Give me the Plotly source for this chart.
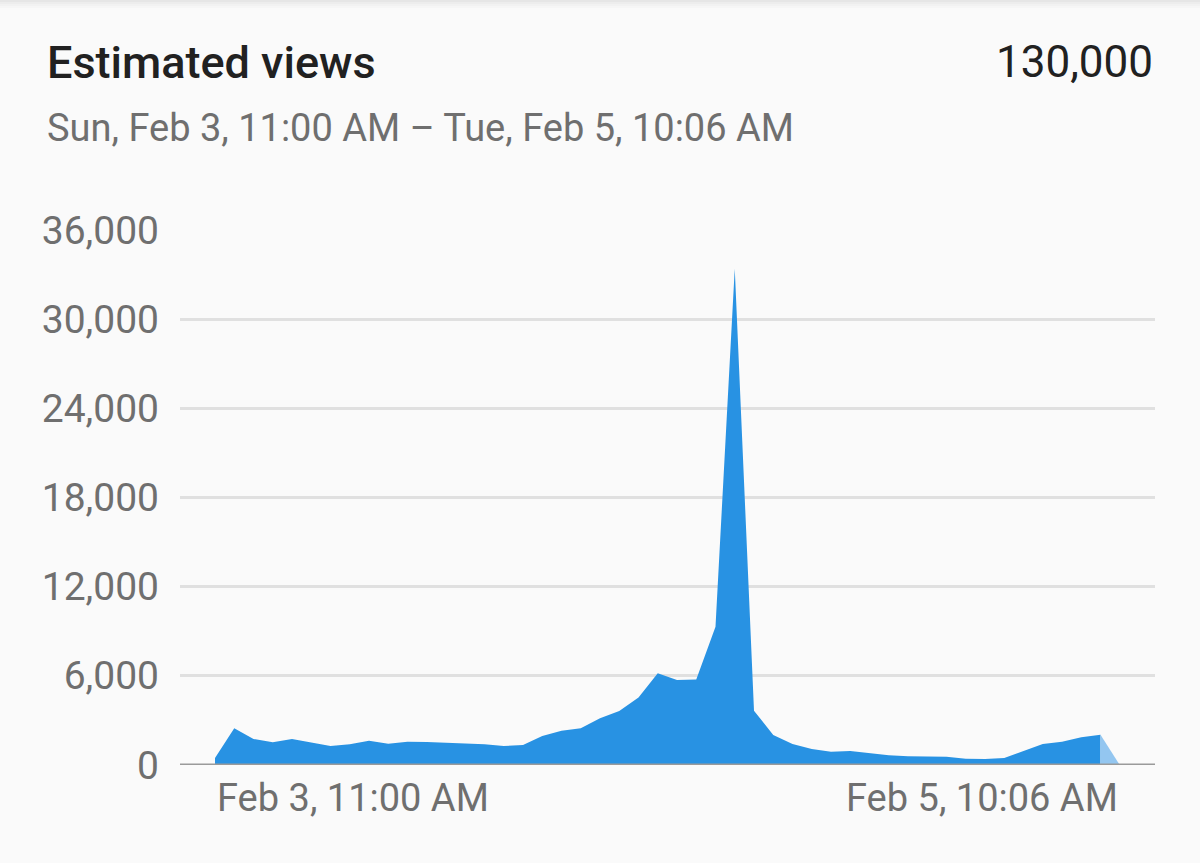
import plotly.graph_objects as go
import pandas as pd

# ---- data ----
start_time = "2019-02-03 11:00"
hourly_views = [470, 2470, 1750, 1530, 1750, 1500, 1280, 1390, 1640, 1430,
                1570, 1550, 1500, 1460, 1390, 1280, 1345, 1950, 2310, 2470,
                3140, 3630, 4550, 6170, 5720, 5760, 9310, 33400, 3650, 2020,
                1410, 1080, 900, 940, 790, 650, 585, 560, 560, 425,
                400, 470, 960, 1410, 1570, 1860, 2040]
partial_views = [2040, 0]          # last (incomplete) hour, drawn lighter
y_ticks = [0, 6000, 12000, 18000, 24000, 30000, 36000]
x_tick_labels = ["Feb 3, 11:00 AM", "Feb 5, 10:06 AM"]
title_text = "Estimated views"
total_text = "130,000"
subtitle_text = "Sun, Feb 3, 11:00 AM \u2013 Tue, Feb 5, 10:06 AM"

times = pd.date_range(start_time, periods=len(hourly_views), freq="h")
partial_times = pd.date_range(times[-1], periods=2, freq="h")

W, H = 1200, 863
L, R, T, B = 180, 45, 230, 98
PW, PH = W - L - R, H - T - B

def px(x):
    return (x - L) / PW

def py(y):
    return 1 - (y - T) / PH

BLUE = "#2892e3"
LIGHT = "#93c6f0"
FONT = "Roboto"

fig = go.Figure()
fig.add_trace(go.Scatter(x=times, y=hourly_views, mode="lines", fill="tozeroy",
                         line=dict(width=0, color=BLUE), fillcolor=BLUE,
                         hoverinfo="skip", showlegend=False))
fig.add_trace(go.Scatter(x=partial_times, y=partial_views, mode="lines", fill="tozeroy",
                         line=dict(width=0, color=LIGHT), fillcolor=LIGHT,
                         hoverinfo="skip", showlegend=False))

step = pd.Timedelta(hours=1)
x_lo = times[0] - step * (35 / 19.25)
x_hi = times[0] + step * ((1155 - 215) / 19.25)

fig.update_xaxes(range=[x_lo, x_hi], showgrid=False, zeroline=False,
                 showticklabels=False, showline=False, fixedrange=True)
fig.update_yaxes(range=[0, 36000], tickvals=y_ticks,
                 ticktext=[f"{v:,}" for v in y_ticks],
                 showgrid=True, gridcolor="#e0e0e0", gridwidth=2.5,
                 zeroline=False, showline=False,
                 tickfont=dict(family=FONT, size=39, color="#6f6f6f"),
                 ticklabelstandoff=20, fixedrange=True)

# baseline axis line
fig.add_shape(type="line", xref="paper", yref="y", x0=0, x1=1, y0=0, y1=0,
              line=dict(color="#9a9a9a", width=3), layer="above")

# top shadow
for i, c in enumerate(["#e6e6e6", "#ededed", "#f2f2f2", "#f6f6f6"]):
    fig.add_shape(type="rect", xref="paper", yref="paper",
                  x0=px(0), x1=px(W), y0=py(i * 2), y1=py(i * 2 + 2),
                  line=dict(width=0), fillcolor=c, layer="below")

ann = [
    dict(text=title_text, x=px(45), y=py(62), xanchor="left", yanchor="middle",
         font=dict(family=FONT, size=45, color="#212121", weight=500)),
    dict(text=total_text, x=px(1155), y=py(62), xanchor="right", yanchor="middle",
         font=dict(family=FONT, size=44, color="#212121")),
    dict(text=subtitle_text, x=px(45), y=py(128), xanchor="left", yanchor="middle",
         font=dict(family=FONT, size=38, color="#6f6f6f")),
    dict(text=x_tick_labels[0], x=times[0], xref="x", y=py(798), xanchor="left",
         yanchor="middle", font=dict(family=FONT, size=38, color="#6f6f6f")),
    dict(text=x_tick_labels[1], x=partial_times[-1], xref="x", y=py(798), xanchor="right",
         yanchor="middle", font=dict(family=FONT, size=38, color="#6f6f6f")),
]
for a in ann:
    a.setdefault("xref", "paper")
    a["yref"] = "paper"
    a["showarrow"] = False
    fig.add_annotation(**a)

fig.update_layout(width=W, height=H, margin=dict(l=L, r=R, t=T, b=B),
                  paper_bgcolor="#fafafa", plot_bgcolor="#fafafa")

fig.write_html("out.html", config={"displayModeBar": False},
               post_script="document.body.style.margin='0px';document.body.style.background='#fafafa';")
